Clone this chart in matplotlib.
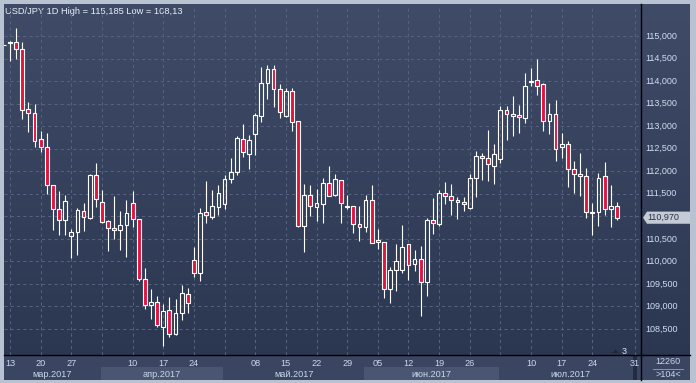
import numpy as np
import matplotlib
matplotlib.use('Agg')
import matplotlib.pyplot as plt
from matplotlib.transforms import blended_transform_factory
from matplotlib.patches import Rectangle, Polygon

plt.rcParams['font.family'] = ['Liberation Sans', 'DejaVu Sans']

W, H = 696, 383

# daily USD/JPY candles, 10 Mar .. 28 Jul 2017 (index -1 = 10 Mar, 0 = 13 Mar)
opens = [114.80,
         114.85, 114.86, 114.72, 113.37, 113.29, 112.72, 112.53, 111.69, 111.16, 110.91,
         110.56, 110.65, 111.12, 110.97, 111.91, 111.31, 110.90, 110.73, 110.69, 110.80,
         111.29, 110.93, 109.60, 109.03, 109.11, 108.54, 108.92, 108.40, 108.85, 109.27,
         110.02, 109.75, 111.10, 110.99, 111.21, 111.27, 111.82, 111.98, 112.71, 112.39,
         112.82, 113.23, 113.95, 114.26, 113.82, 113.23, 113.77, 113.11, 110.79, 111.47,
         111.21, 111.28, 111.75, 111.48, 111.80, 111.20, 111.24, 110.83, 110.76, 111.36,
         110.47, 110.42, 109.38, 109.80, 109.82, 110.39, 109.94, 110.05, 109.55, 110.92,
         110.82, 111.51, 111.44, 111.36, 111.32, 111.19, 111.84, 112.34, 112.29, 112.12,
         112.27, 113.35, 113.23, 113.24, 113.17, 113.97, 114.02, 113.94, 113.12, 113.27,
         112.54, 112.60, 112.05, 111.89, 111.89, 111.07, 111.09, 111.89, 111.16, 111.22]
highs = [114.80,
         114.90, 115.185, 114.86, 113.54, 113.49, 112.89, 112.84, 111.69, 111.56, 111.47,
         110.72, 111.19, 111.30, 111.93, 112.18, 111.58, 110.92, 111.44, 111.12, 111.36,
         111.56, 110.93, 109.85, 109.39, 109.23, 109.05, 109.21, 109.17, 109.48, 109.40,
         110.33, 111.18, 111.78, 111.58, 111.69, 111.92, 112.29, 112.78, 113.05, 112.80,
         113.29, 114.31, 114.36, 114.36, 113.94, 113.84, 113.84, 113.11, 111.71, 111.69,
         111.61, 111.84, 112.12, 111.94, 111.80, 111.47, 111.24, 111.23, 111.47, 111.69,
         110.72, 110.42, 109.88, 110.39, 110.81, 110.39, 110.25, 110.34, 110.96, 111.41,
         111.58, 111.76, 111.71, 111.42, 111.43, 111.94, 112.45, 112.40, 112.91, 112.60,
         113.45, 113.45, 113.67, 113.47, 114.18, 114.28, 114.49, 113.96, 113.51, 113.58,
         112.85, 112.67, 112.23, 112.40, 112.07, 111.30, 111.96, 112.20, 111.69, 111.31]
lows = [114.80,
        114.45, 114.49, 113.15, 112.88, 112.54, 112.43, 111.50, 110.70, 110.59, 110.59,
        110.08, 110.14, 110.68, 110.93, 111.21, 110.85, 110.23, 110.49, 110.25, 110.10,
        110.77, 109.57, 108.94, 108.72, 108.54, 108.13, 108.32, 108.36, 108.69, 108.85,
        109.65, 109.57, 110.86, 110.95, 111.03, 111.16, 111.75, 111.92, 112.31, 112.05,
        112.37, 113.10, 113.60, 113.43, 113.17, 113.21, 112.90, 110.77, 110.21, 111.01,
        110.90, 110.85, 111.45, 111.44, 110.86, 111.17, 110.64, 110.46, 110.65, 110.40,
        110.27, 109.19, 109.08, 109.34, 109.75, 109.59, 109.79, 108.79, 109.24, 110.61,
        110.79, 111.27, 111.03, 110.93, 111.12, 111.17, 111.43, 111.81, 111.79, 111.71,
        112.18, 112.69, 112.78, 112.85, 113.07, 113.88, 113.69, 112.90, 112.83, 112.23,
        112.30, 111.66, 111.52, 111.44, 110.97, 110.59, 110.79, 111.04, 110.76, 110.91]
closes = [114.80,
          114.87, 114.72, 113.35, 113.29, 112.68, 112.53, 111.69, 111.16, 110.91, 111.33,
          110.65, 111.14, 110.98, 111.92, 111.38, 110.87, 110.73, 110.69, 110.80, 111.07,
          110.93, 109.60, 109.03, 109.09, 108.60, 108.89, 108.40, 108.85, 109.31, 109.07,
          109.74, 111.07, 111.04, 111.22, 111.51, 111.82, 111.98, 112.73, 112.43, 112.69,
          113.24, 113.95, 114.26, 113.83, 113.32, 113.77, 113.10, 110.79, 111.47, 111.24,
          111.29, 111.75, 111.46, 111.82, 111.30, 111.24, 110.82, 110.76, 111.36, 110.40,
          110.42, 109.38, 109.81, 110.01, 110.32, 109.91, 110.05, 109.55, 110.92, 110.85,
          111.51, 111.44, 111.36, 111.31, 111.27, 111.84, 112.34, 112.29, 112.15, 112.38,
          113.35, 113.26, 113.27, 113.20, 113.89, 114.00, 113.90, 113.12, 113.27, 112.50,
          112.60, 112.06, 111.93, 111.94, 111.09, 111.09, 111.86, 111.16, 111.22, 110.97]

last_price = 110.97
price_ticks = [108.5, 109.0, 109.5, 110.0, 110.5, 111.0, 111.5, 112.0, 112.5,
               113.0, 113.5, 114.0, 114.5, 115.0]
monday_idx = [0, 5, 10, 15, 20, 25, 30, 35, 40, 45, 50, 55, 60, 65, 70, 75, 80, 85, 90, 95, 102]
day_idx = [0, 5, 10, 20, 25, 30, 40, 45, 50, 55, 60, 65, 70, 75, 85, 90, 95, 102]
day_lbl = ['13', '20', '27', '10', '17', '24', '08', '15', '22', '29',
           '05', '12', '19', '26', '10', '17', '24', '31']
month_lbl = ['мар.2017', 'апр.2017', 'май.2017', 'июн.2017', 'июл.2017']
month_start = [-20, 15, 35, 58, 80]   # first trading day index of each month
title = 'USD/JPY 1D High = 115,185 Low = 108,13'

o = np.array(opens); h = np.array(highs); l = np.array(lows); c = np.array(closes)
x = np.arange(-1, len(o) - 1)

fig = plt.figure(figsize=(W / 100, H / 100), dpi=100)
fig.patch.set_facecolor('#b9c2d0')

# background canvas in pixel coordinates
bg = fig.add_axes([0, 0, 1, 1])
bg.set_xlim(0, W); bg.set_ylim(H, 0); bg.axis('off')
top = np.array([64, 76, 103]) / 255.
bot = np.array([42, 54, 80]) / 255.
t = np.linspace(0, 1, 200)[:, None, None]
grad = top * (1 - t) + bot * t
bg.imshow(grad, extent=[4, 690, 380, 4], aspect='auto', zorder=0)

# main chart axes
x0, x1 = 4, 641
y0, y1 = 5, 355
ax = fig.add_axes([x0 / W, (H - y1) / H, (x1 - x0) / W, (y1 - y0) / H])
ax.patch.set_alpha(0)
for s in ax.spines.values():
    s.set_visible(False)
ax.set_xticks([]); ax.set_yticks([])
px_per_bar = 6.13
ax.set_xlim((x0 - 10) / px_per_bar, (x1 - 10) / px_per_bar)
ppu = 45.08
ax.set_ylim(115 - (y1 - 36) / ppu, 115 + (36 - y0) / ppu)
xmin, xmax = ax.get_xlim()

grid_c = '#56627d'
for p in price_ticks:
    ax.axhline(p, color=grid_c, lw=0.75, ls=(0, (3, 3)), zorder=1)
for m in monday_idx:
    ax.axvline(m, color=grid_c, lw=0.75, ls=(0, (3, 3)), zorder=1)

# candles
red = '#e3133e'
up = c >= o
bb = np.minimum(o, c)
bt = np.maximum(o, c)
bh = np.maximum(bt - bb, 0.004)
ax.vlines(x, bt, h, color='white', lw=0.8, zorder=2)
ax.vlines(x, l, bb, color='white', lw=0.8, zorder=2)
ax.bar(x[up], bh[up], bottom=bb[up], width=0.62, facecolor='none',
       edgecolor='white', linewidth=0.8, zorder=3)
ax.bar(x[~up], bh[~up], bottom=bb[~up], width=0.62, facecolor=red,
       edgecolor='white', linewidth=0.8, zorder=3)

# date band
band_c = '#3a4661'
hi_c = '#4a5671'
bg.add_patch(Rectangle((4, 355), 686, 25, facecolor=band_c, edgecolor='none', zorder=1))
bx = blended_transform_factory(ax.transData, bg.transData)
bounds = month_start + [200]
for k in range(len(month_lbl)):
    a = max(bounds[k] - 0.2, xmin)
    b = min(bounds[k + 1] - 0.2, xmax)
    if k % 2 == 1:
        bg.add_patch(Rectangle((a, 367), b - a, 13, transform=bx,
                               facecolor=hi_c, edgecolor='none', zorder=1.5))
    bg.text((a + b) / 2, 374.5, month_lbl[k], transform=bx, ha='center', va='center',
            fontsize=6.6, color='#c9d6ec', zorder=3)
for i, s in zip(day_idx, day_lbl):
    bg.text(i, 363, s, transform=bx, ha='center', va='center',
            fontsize=6.6, color='#c9d6ec', zorder=3)
bg.add_patch(Rectangle((632.5, 356), 4.5, 24, facecolor='#232c3e', edgecolor='none', zorder=2))

# separator lines
bg.plot([641, 641], [4, 380], color='black', lw=1.0, zorder=4)
bg.plot([4, 690], [355, 355], color='black', lw=1.0, zorder=4)

# price scale (the label under the last-price marker is hidden)
by = blended_transform_factory(bg.transData, ax.transData)
for p in price_ticks:
    if abs(p - last_price) < 0.2:
        continue
    bg.text(645, p, f'{p:.3f}'.replace('.', ','), transform=by, ha='left', va='center',
            fontsize=6.5, color='#cfdcf2', zorder=3)
d = 0.135
box = Polygon([(643, last_price), (647, last_price + d), (690, last_price + d),
               (690, last_price - d), (647, last_price - d)], closed=True,
              transform=by, facecolor='#c5cbd5', edgecolor='none', zorder=5)
bg.add_patch(box)
bg.text(647.5, last_price, f'{last_price:.3f}'.replace('.', ','), transform=by,
        ha='left', va='center', fontsize=6.5, color='#2a3244', zorder=6)

# corner info
bg.text(668, 362, '12260', ha='center', va='center', fontsize=6.5, color='#c9d6ec', zorder=3)
bg.plot([653, 683], [369, 369], color='#8c97aa', lw=0.7, zorder=3)
bg.text(668, 374.5, '>104<', ha='center', va='center', fontsize=6.5, color='#c9d6ec', zorder=3)
bg.add_patch(Polygon([(612, 353), (615.5, 349.5), (619, 353)], closed=True,
                     facecolor='#1f2636', edgecolor='none', zorder=3))
bg.text(624, 351, '3', ha='center', va='center', fontsize=6.5, color='#dde6f4', zorder=3)

bg.text(5, 12, title, ha='left', va='center', fontsize=6.7, color='#e8eef8', zorder=3)

fig.savefig('out.png', dpi=100, facecolor=fig.get_facecolor())
